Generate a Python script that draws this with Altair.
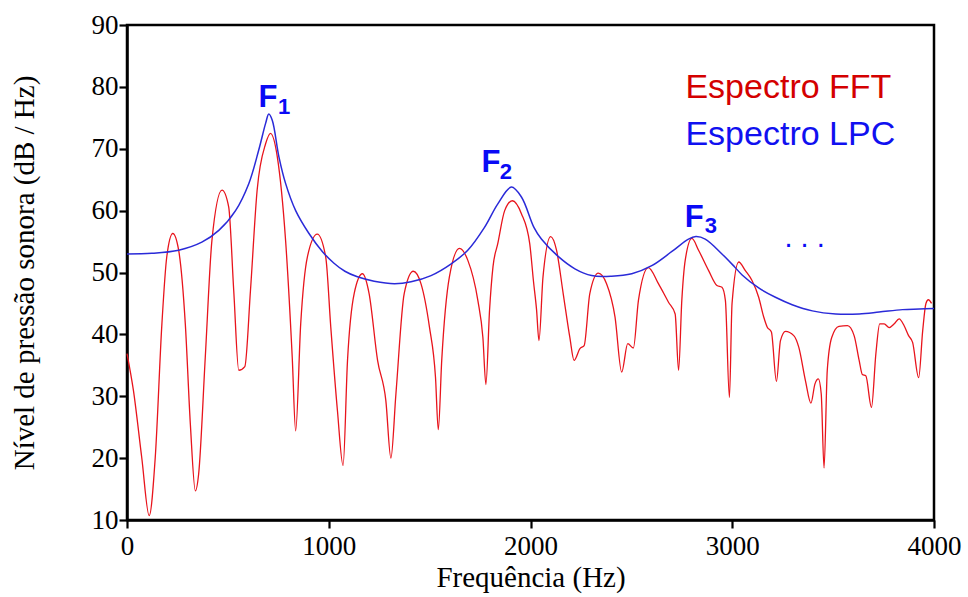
import altair as alt
import pandas as pd

# ---- data ----
fft_f = [0, 32, 73, 110, 140, 173, 197, 227, 256, 289, 314, 339, 355, 388, 421, 471, 504, 529, 554, 584,
         612, 645, 687, 711, 745, 786, 819, 836, 861, 894, 943, 985, 1010, 1043, 1071, 1093, 1126, 1167,
         1200, 1242, 1283, 1308, 1333, 1374, 1419, 1457, 1499, 1529, 1543, 1560, 1598, 1648, 1689, 1739,
         1764, 1779, 1797, 1814, 1838, 1872, 1910, 1955, 1996, 2015, 2030, 2042, 2062, 2100, 2129, 2162,
         2195, 2216, 2245, 2266, 2294, 2336, 2377, 2419, 2452, 2482, 2510, 2535, 2584, 2634, 2684, 2717,
         2734, 2750, 2767, 2800, 2833, 2883, 2924, 2949, 2966, 2986, 2999, 3032, 3065, 3098, 3131, 3156,
         3173, 3194, 3219, 3239, 3264, 3305, 3330, 3363, 3390, 3410, 3427, 3441, 3455, 3471, 3493, 3529,
         3571, 3604, 3629, 3645, 3662, 3690, 3712, 3731, 3753, 3778, 3803, 3827, 3852, 3874, 3894, 3924,
         3944, 3960, 3972, 3988]
fft_v = [36.9, 30.9, 20.1, 10.7, 20.1, 41.7, 52.5, 56.3, 53.6, 41.7, 25.5, 14.7, 17.4, 36.3, 55.2, 63.3, 60.6, 47.1, 34.2, 34.8,
         47.1, 63.3, 70.8, 72.5, 68.7, 55.2, 36.3, 24.4, 41.7, 52.5, 56.2, 52.5, 41.2, 27.7, 18.8, 35.8, 46.6, 49.8,
         46.6, 35.8, 29.3, 20.0, 30.4, 46.6, 50.2, 48.2, 41.2, 33.1, 24.6, 35.8, 49.3, 53.9, 52.0, 45.5,
         39.5, 31.9, 43.9, 50.9, 54.7, 60.0, 61.6, 59.5, 54.7, 48.5, 44.0, 39.0, 49.3, 55.8, 53.6, 46.6,
         39.5, 35.8, 37.7, 38.2, 46.6, 49.9, 48.2, 42.8, 33.9, 38.5, 37.8, 45.5, 50.8, 48.2, 45.2, 43.3,
         34.2, 45.5, 52.0, 55.5, 53.6, 50.3, 47.9, 47.6, 45.5, 29.8, 45.0, 51.7, 50.3, 48.7, 46.0, 42.8,
         41.2, 40.4, 32.4, 39.0, 40.5, 39.8, 37.9, 32.5, 28.9, 32.0, 32.8, 30.4, 18.4, 34.2, 39.5, 41.3,
         41.4, 39.8, 35.8, 33.5, 33.3, 28.2, 36.9, 41.7, 41.7, 41.1, 41.7, 42.5, 41.4, 39.8, 38.7, 33.0,
         40.6, 45.0, 45.6, 45.0]

lpc_f = [0, 123, 256, 371, 455, 538, 604, 653, 687, 703, 720, 753, 786, 836, 902, 968, 1026, 1080, 1142,
         1225, 1325, 1408, 1507, 1607, 1689, 1772, 1838, 1905, 1955, 2017, 2054, 2137, 2220, 2303, 2402,
         2502, 2601, 2701, 2783, 2820, 2866, 2949, 3012, 3049, 3131, 3214, 3297, 3397, 3513, 3629, 3728,
         3844, 3927, 4000]
lpc_v = [53.0, 53.1, 53.6, 54.9, 56.8, 60.0, 64.4, 69.8, 74.1, 75.6, 74.6, 68.7, 64.4, 60.0, 56.3, 53.4, 51.5, 50.2, 49.3,
         48.6, 48.2, 48.5, 49.5, 51.4, 53.6, 57.3, 61.1, 63.8, 62.2, 57.3, 55.4, 52.6, 50.6, 49.5, 49.4,
         49.8, 51.1, 53.4, 55.4, 55.8, 55.4, 53.0, 50.9, 49.6, 47.5, 46.0, 44.8, 43.8, 43.3, 43.3, 43.6,
         44.0, 44.1, 44.2]

x_ticks = [0, 1000, 2000, 3000, 4000]
y_ticks = [10, 20, 30, 40, 50, 60, 70, 80, 90]

legend_labels = ["Espectro FFT", "Espectro LPC"]
legend_colors = ["#d40000", "#1010f0"]
legend_f = [2768, 2768]
legend_v = [78.2, 70.6]

formant_main = ["F", "F", "F"]
formant_main_f = [652, 1757, 2764]
formant_main_v = [76.7, 66.2, 57.3]
formant_sub = ["1", "2", "3"]
formant_sub_f = [748, 1848, 2864]
formant_sub_v = [75.6, 65.1, 56.4]

dots_label = [". . ."]
dots_f = [3259]
dots_v = [54.1]

RED = "#e8141c"
BLUE = "#2a2ad8"
TEXT_BLUE = "#0a0af5"

fft = pd.DataFrame({"f": fft_f, "v": fft_v})
lpc = pd.DataFrame({"f": lpc_f, "v": lpc_v})
leg = pd.DataFrame({"f": legend_f, "v": legend_v, "t": legend_labels})
fmain = pd.DataFrame({"f": formant_main_f, "v": formant_main_v, "t": formant_main})
fsub = pd.DataFrame({"f": formant_sub_f, "v": formant_sub_v, "t": formant_sub})
dots = pd.DataFrame({"f": dots_f, "v": dots_v, "t": dots_label})

xscale = alt.Scale(domain=[0, 4000], nice=False, zero=False)
yscale = alt.Scale(domain=[10, 90], nice=False, zero=False)

X = alt.X("f:Q", scale=xscale, axis=alt.Axis(
    values=x_ticks, title="Frequência (Hz)", format="d", grid=False,
    labelFlush=False, labelOverlap=False, tickSize=8, labelPadding=5,
    labelFont="Liberation Serif", labelFontSize=27, labelColor="black",
    titleFont="Liberation Serif", titleFontSize=29, titleFontWeight="normal", titleColor="black",
    domainColor="black", domainWidth=2.5, tickColor="black", tickWidth=2.2,
    titleY=66, titleBaseline="alphabetic"))
Y = alt.Y("v:Q", scale=yscale, axis=alt.Axis(
    values=y_ticks, title="Nível de pressão sonora (dB / Hz)", format="d", grid=False,
    labelFlush=False, labelOverlap=False, tickSize=8, labelPadding=1,
    labelFont="Liberation Serif", labelFontSize=27, labelColor="black",
    titleFont="Liberation Serif", titleFontSize=29, titleFontWeight="normal", titleColor="black",
    domainColor="black", domainWidth=2.5, tickColor="black", tickWidth=2.2,
    titleX=-94, titleY=247.5, titleAngle=-90, titleAlign="center", titleBaseline="alphabetic"))

fft_line = alt.Chart(fft).mark_line(color=RED, strokeWidth=1.3, interpolate="monotone").encode(x=X, y=Y)
lpc_line = alt.Chart(lpc).mark_line(color=BLUE, strokeWidth=1.5, interpolate="catmull-rom").encode(x=X, y=Y)

leg_text = alt.Chart(leg).mark_text(
    align="left", baseline="alphabetic", font="Liberation Sans", fontSize=34
).encode(x=X, y=Y, text="t:N",
         color=alt.Color("t:N", scale=alt.Scale(domain=legend_labels, range=legend_colors), legend=None))

fmain_text = alt.Chart(fmain).mark_text(
    align="left", baseline="alphabetic", font="Liberation Sans", fontSize=31, fontWeight="bold", color=TEXT_BLUE
).encode(x=X, y=Y, text="t:N")
fsub_text = alt.Chart(fsub).mark_text(
    align="left", baseline="alphabetic", font="Liberation Sans", fontSize=22, fontWeight="bold", color=TEXT_BLUE
).encode(x=X, y=Y, text="t:N")
dots_text = alt.Chart(dots).mark_text(
    align="left", baseline="alphabetic", font="Liberation Sans", fontSize=29, color=TEXT_BLUE
).encode(x=X, y=Y, text="t:N")

chart = alt.layer(fft_line, lpc_line, leg_text, fmain_text, fsub_text, dots_text).properties(
    width=807, height=495,
    autosize=alt.AutoSizeParams(type="none"),
    padding={"left": 127, "top": 25, "right": 34, "bottom": 77},
    background="white",
).configure_view(
    stroke="black", strokeWidth=2.5
).configure_axis(
    grid=False, domainColor="black", domainWidth=2.5, tickColor="black", tickWidth=2.2,
    labelFont="Liberation Serif", labelFontSize=27, labelColor="black",
    titleFont="Liberation Serif", titleFontSize=29, titleFontWeight="normal", titleColor="black",
)

chart.save("out.html", embed_options={"renderer": "svg", "actions": False})
